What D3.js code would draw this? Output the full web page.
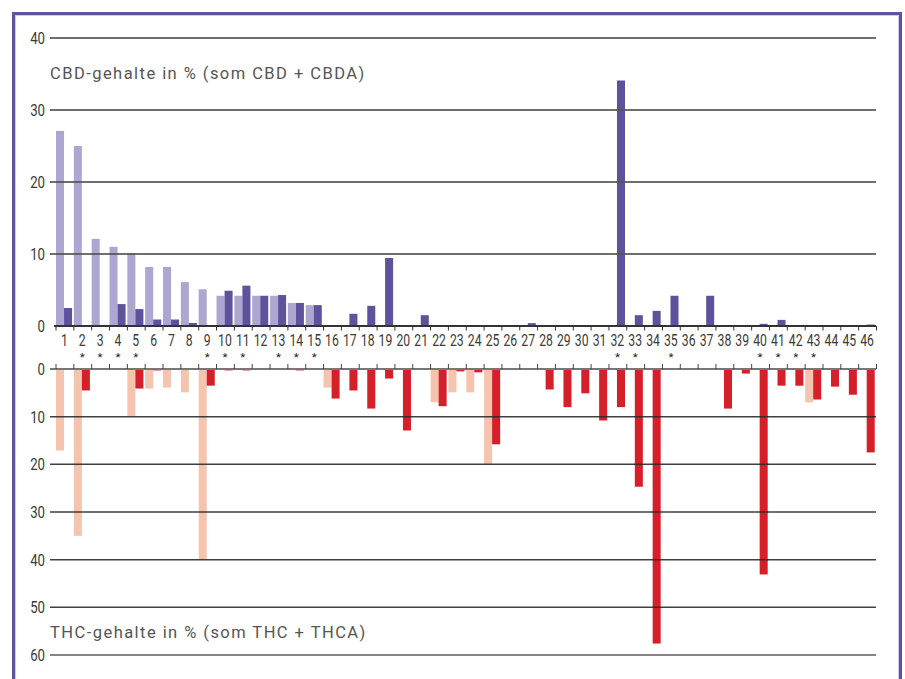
<!DOCTYPE html>
<html><head><meta charset="utf-8">
<script src="https://cdn.jsdelivr.net/npm/d3@7"></script>
<style>html,body{margin:0;padding:0;background:#fff;}svg{display:block;}</style>
</head><body>
<svg id="c" width="905" height="679"></svg>
<script>
const categories = d3.range(1, 47).map(String);
const cbdLight = [27.1,25.0,12.1,11.0,10.1,8.2,8.2,6.1,5.1,4.2,4.2,4.2,4.2,3.2,2.9,
  0,0,0,0,0,0,0,0,0,0,0,0,0,0,0,0,0,0,0,0,0,0,0,0,0,0,0,0,0,0,0];
const cbdDark = [2.5,0,0.15,3.05,2.35,0.9,0.9,0.42,0,4.9,5.6,4.2,4.3,3.2,2.9,
  0,1.7,2.8,9.45,0,1.5,0,0,0,0,0,0.4,0,0,0,0,34.1,1.5,2.1,4.2,0,4.2,0,0,0.3,0.85,0,0,0,0,0.2];
const thcLight = [17.1,35,0,0,9.9,4.1,3.9,4.9,40,0,0,0,0,0,0,
  3.9,0,0,0,0,0,7.0,4.9,4.9,20.0,0,0,0,0,0,0,0,0,0,0,0,0,0,0,0,0,0,7.0,0,0,0];
const thcDark = [0,4.5,0,0,4.1,0.3,0,0,3.5,0.3,0.3,0,0,0.3,0,
  6.2,4.5,8.3,2.0,12.9,0,7.8,0.5,0.7,15.8,0,0,4.3,8.0,5.1,10.8,8.0,24.7,57.6,0,0,0,8.3,0.95,43.1,3.5,3.5,6.4,3.7,5.4,17.5];
const starred = ["2","3","4","5","9","10","11","13","14","15","32","33","35","40","41","42","43"];
const topTicks = [0,10,20,30,40];
const botTicks = [0,10,20,30,40,50,60];
const titleTop = "CBD-gehalte in % (som CBD + CBDA)";
const titleBot = "THC-gehalte in % (som THC + THCA)";

const C = {lp:"#aba7d0", dp:"#5f529d", ls:"#f5c4af", dr:"#d51f29"};
const svg = d3.select("#c");
const numFont = "Roboto,sans-serif";

// frame
svg.append("rect").attr("x",13.5).attr("y",13.5).attr("width",887).attr("height",720)
  .attr("fill","none").attr("stroke","#5e539e").attr("stroke-width",3);
svg.append("rect").attr("x",15.5).attr("y",15.5).attr("width",883).attr("height",720)
  .attr("fill","none").attr("stroke","#cfcbe6").attr("stroke-width",1);

const x = d3.scaleBand().domain(categories).range([56, 876.5]).padding(0);
const bw = x.bandwidth()*0.45;
const yT = d3.scaleLinear().domain([0,40]).range([326,38]);
const yB = d3.scaleLinear().domain([0,60]).range([369,655]);

const gl = 50, gr = 876;

// top bars
const gTop = svg.append("g");
gTop.selectAll(".tl").data(categories).join("rect")
  .attr("x",d=>x(d)).attr("width",bw)
  .attr("y",(d,i)=>yT(cbdLight[i])).attr("height",(d,i)=>yT(0)-yT(cbdLight[i]))
  .attr("fill",C.lp);
gTop.selectAll(".td").data(categories).join("rect")
  .attr("x",d=>x(d)+bw).attr("width",bw)
  .attr("y",(d,i)=>yT(cbdDark[i])).attr("height",(d,i)=>yT(0)-yT(cbdDark[i]))
  .attr("fill",C.dp);

// bottom bars
const gBot = svg.append("g");
gBot.selectAll(".bl").data(categories).join("rect")
  .attr("x",d=>x(d)).attr("width",bw)
  .attr("y",yB(0)).attr("height",(d,i)=>yB(thcLight[i])-yB(0))
  .attr("fill",C.ls);
gBot.selectAll(".bd").data(categories).join("rect")
  .attr("x",d=>x(d)+bw).attr("width",bw)
  .attr("y",yB(0)).attr("height",(d,i)=>yB(thcDark[i])-yB(0))
  .attr("fill",C.dr);

// gridlines top
svg.append("g").selectAll("line").data(topTicks.filter(t=>t>0)).join("line")
  .attr("x1",gl).attr("x2",gr).attr("y1",d=>yT(d)).attr("y2",d=>yT(d))
  .attr("stroke","#555").attr("stroke-opacity",0.85).attr("stroke-width",1.8);
// gridlines bottom
svg.append("g").selectAll("line").data(botTicks.filter(t=>t>0)).join("line")
  .attr("x1",gl).attr("x2",gr).attr("y1",d=>yB(d)).attr("y2",d=>yB(d))
  .attr("stroke",d=>d===60?"#777":"#2a2a2a").attr("stroke-opacity",0.9).attr("stroke-width",d=>d===60?2:1.5);

// zero axes with ticks
const bounds = categories.map(d=>x(d)).concat([x.range()[1]]);
svg.append("line").attr("x1",54).attr("x2",gr).attr("y1",yT(0)).attr("y2",yT(0))
  .attr("stroke","#333").attr("stroke-width",1.8);
svg.append("g").selectAll("line").data(bounds).join("line")
  .attr("x1",d=>d).attr("x2",d=>d).attr("y1",yT(0)).attr("y2",yT(0)+4.5)
  .attr("stroke","#333").attr("stroke-width",1);
svg.append("line").attr("x1",gl).attr("x2",gr).attr("y1",yB(0)).attr("y2",yB(0))
  .attr("stroke","#777").attr("stroke-width",1.8);
svg.append("g").selectAll("line").data(bounds).join("line")
  .attr("x1",d=>d).attr("x2",d=>d).attr("y1",yB(0)).attr("y2",yB(0)-5)
  .attr("stroke","#444").attr("stroke-width",1);

// y labels (condensed look)
function yLabels(ticks, scale) {
  svg.append("g").selectAll("text").data(ticks).join("text")
    .attr("transform",d=>`translate(45,${scale(d)}) scale(0.8,1)`)
    .attr("dy","0.36em").attr("text-anchor","end")
    .attr("font-family",numFont).attr("font-size",16.5).attr("fill","#3a3a3a").text(d=>d);
}
yLabels(topTicks, yT);
yLabels(botTicks, yB);

// category labels
svg.append("g").selectAll("text").data(categories).join("text")
  .attr("transform",d=>`translate(${x(d)+x.bandwidth()/2-0.5},346) scale(0.74,1)`)
  .attr("text-anchor","middle")
  .attr("font-family",numFont).attr("font-size",16.5).attr("fill","#3a3a3a").text(d=>d);
svg.append("g").selectAll("text").data(starred).join("text")
  .attr("x",d=>x(d)+x.bandwidth()/2-0.5).attr("y",361).attr("text-anchor","middle")
  .attr("font-family",numFont).attr("font-size",11.5).attr("fill","#222").text("*");

// titles
svg.append("text").attr("x",50).attr("y",79).attr("font-family","Roboto,sans-serif")
  .attr("font-size",16.5).attr("letter-spacing",1.45).attr("fill","#555").text(titleTop);
svg.append("text").attr("x",50).attr("y",638).attr("font-family","Roboto,sans-serif")
  .attr("font-size",16.5).attr("letter-spacing",1.45).attr("fill","#555").text(titleBot);
</script>
</body></html>
